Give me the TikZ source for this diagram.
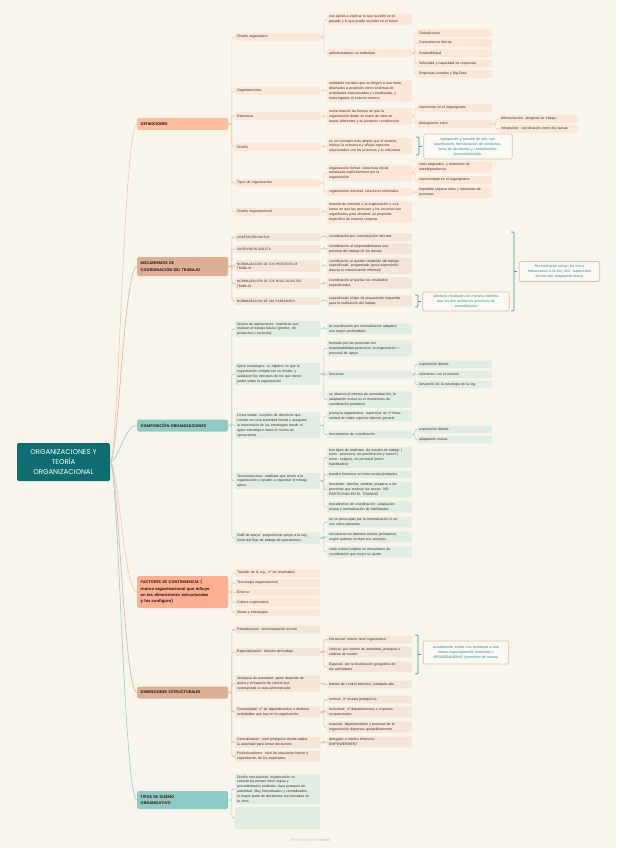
\documentclass[tikz,border=0pt]{standalone}
\usepackage{fontspec}
\setmainfont{Liberation Sans}
\newfontfamily\headfont{Poppins}
\usetikzlibrary{positioning, calc}

\definecolor{bgCream}{HTML}{F8F6EC}
\definecolor{rootTeal}{HTML}{0E6D71}
\definecolor{defHead}{HTML}{FDBE9F}
\definecolor{mecHead}{HTML}{DDAF94}
\definecolor{cmpHead}{HTML}{8DCBC4}
\definecolor{defFill}{HTML}{FBE6D8}
\definecolor{mecFill}{HTML}{F3E5D8}
\definecolor{cmpFill}{HTML}{E1ECE2}
\definecolor{defLine}{HTML}{FBCAAE}
\definecolor{mecLine}{HTML}{E0BBA2}
\definecolor{cmpLine}{HTML}{A2D2CB}
\definecolor{ink}{HTML}{3E3029}
\definecolor{headInk}{HTML}{3B2A20}
\definecolor{braceTeal}{HTML}{3C9A9A}
\definecolor{noteEdge}{HTML}{E4BFA7}
\definecolor{noteFill}{HTML}{FBF9F3}
\definecolor{noteInk}{HTML}{2B8B89}
\definecolor{markGrey}{HTML}{C9C7BE}

\def\xa{235} % level 2 column
\def\xb{327} % level 3 column
\def\xc{417} % level 4 column
\def\xd{499} % level 5 column

% summary brace: x, top, bottom
\newcommand\sumbrace[3]{%
  \draw[brace] (#1,#2) -- (#1+3,#2) -- (#1+3,#3) -- (#1,#3);
  \draw[brace] (#1+3,{(#2+#3)/2}) -- ++(2.5,0);}

\begin{document}
\begin{tikzpicture}[
    x=1pt, y=-1pt,
    every node/.style={font=\fontsize{3.5}{4.9}\selectfont, text=ink},
    rootbox/.style={fill=rootTeal, text=white, minimum width=93pt,
                    minimum height=38pt, align=center, rounded corners=1.5pt,
                    font=\headfont\fontsize{7}{10}\selectfont},
    headbox/.style={anchor=west, minimum width=91pt, text width=84pt,
                    inner xsep=3.5pt, align=left, rounded corners=1.5pt,
                    minimum height=12pt, text=headInk,
                    font=\headfont\bfseries\fontsize{3.9}{6.3}\selectfont},
    leaf/.style={anchor=west, text width=81pt, inner xsep=2pt,
                 inner ysep=1.6pt, rounded corners=1.2pt, align=left,
                 minimum height=7.6pt},
    leafx/.style={leaf, text width=71pt},
    caps/.style={font=\headfont\fontsize{3.2}{4.9}\selectfont},
    dleaf/.style={fill=defFill},
    mleaf/.style={fill=mecFill},
    cleaf/.style={fill=cmpFill},
    dline/.style={draw=defLine, line width=0.6pt, rounded corners=1.5pt},
    mline/.style={draw=mecLine, line width=0.6pt, rounded corners=1.5pt},
    cline/.style={draw=cmpLine, line width=0.6pt, rounded corners=1.5pt},
    brace/.style={draw=braceTeal, line width=0.7pt, rounded corners=1.2pt},
    note/.style={draw=noteEdge, fill=noteFill, line width=0.7pt,
                 rounded corners=2pt, text=noteInk, align=center,
                 font=\fontsize{3.6}{4.9}\selectfont},
    ]

% canvas
\fill[bgCream] (0,0) rectangle (616,848);
\useasboundingbox (0,0) rectangle (616,848);

% ====================================================================
% Root and main branches
% ====================================================================
\node[rootbox] (root) at (63.5,462)
  {ORGANIZACIONES Y\\TEORÍA\\ORGANIZACIONAL};

\node[headbox, fill=defHead] (def) at (137,124) {DEFINICIONES};
\node[headbox, fill=mecHead, minimum height=19pt] (mec) at (137,266.5)
  {MECANISMOS DE\\COORDINACIÓN DEL TRABAJO};
\node[headbox, fill=cmpHead] (cmp) at (137,425.5)
  {COMPOSICIÓN ORGANIZACIONES};
\node[headbox, fill=defHead!92!red, minimum height=32pt] (fac) at (137,592)
  {FACTORES DE CONTINGENCIA (\\marco organizacional que influye\\en las dimensiones estructurales\\y las configura)};
\node[headbox, fill=mecHead] (dim) at (137,692.5)
  {DIMENSIONES ESTRUCTURALES};
\node[headbox, fill=cmpHead, minimum height=18pt] (tip) at (137,800)
  {TIPOS DE DISEÑO\\ORGANIZATIVO};

\draw[defLine, line width=0.7pt] (root.east) .. controls +(8,0) and +(-13,0) .. (def.west);
\draw[mecLine, line width=0.7pt] (root.east) .. controls +(8,0) and +(-13,0) .. (mec.west);
\draw[cmpLine, line width=0.7pt] (root.east) .. controls +(8,0) and +(-13,0) .. (cmp.west);
\draw[defLine, line width=0.7pt] (root.east) .. controls +(8,0) and +(-13,0) .. (fac.west);
\draw[mecLine, line width=0.7pt] (root.east) .. controls +(8,0) and +(-13,0) .. (dim.west);
\draw[cmpLine, line width=0.7pt] (root.east) .. controls +(8,0) and +(-13,0) .. (tip.west);

% ====================================================================
% DEFINICIONES
% ====================================================================
\node[leaf, dleaf] (d1) at (\xa,37)  {Diseño organizativo};
\node[leaf, dleaf] (d2) at (\xa,91)  {Organizaciones};
\node[leaf, dleaf] (d3) at (\xa,116) {Estructura};
\node[leaf, dleaf] (d4) at (\xa,147) {Diseño};
\node[leaf, dleaf] (d5) at (\xa,183) {Tipos de organización};
\node[leaf, dleaf] (d6) at (\xa,212) {Diseño organizacional};

\node[leaf, dleaf] (d1a) at (\xb,19.5)
  {nos ayuda a explicar lo que sucedió en el\\pasado y lo que puede suceder en el futuro};
\node[leaf, dleaf] (d1b) at (\xb,53) {administradores se enfrentan};
\node[leaf, dleaf] (d2a) at (\xb,91)
  {entidades sociales que se dirigen a una meta,\\diseñados a propósito como sistemas de\\actividades estructuradas y coordinadas, y\\estos ligadas al entorno externo};
\node[leaf, dleaf] (d3a) at (\xb,116.5)
  {suma total de las formas en que la\\organización divide su mano de obra en\\tareas diferentes y su posterior coordinación};
\node[leaf, dleaf] (d4a) at (\xb,146)
  {es un concepto más amplio que el anterior,\\incluye la estructura y añade aspectos\\relacionados con los procesos y la estructura};
\node[leaf, dleaf] (d5a) at (\xb,173)
  {organización formal: estructura oficial\\autorizada explícitamente por la\\organización};
\node[leaf, dleaf] (d5b) at (\xb,192)
  {organización informal: relaciones informales};
\node[leaf, dleaf] (d6a) at (\xb,212)
  {manera de concebir a la organización y a la\\forma en que las personas y los recursos son\\organizados para alcanzar un propósito\\específico de manera conjunta};

\node[leafx, dleaf] (glob) at (\xc,33)   {Globalización};
\node[leafx, dleaf] (cint) at (\xc,43)   {Competencia interna};
\node[leafx, dleaf] (sost) at (\xc,53)   {Sostenibilidad};
\node[leafx, dleaf] (velo) at (\xc,63.5) {Velocidad y capacidad de respuesta};
\node[leafx, dleaf] (empr) at (\xc,74)   {Empresas sociales y Big Data};
\node[leafx, dleaf] (repr) at (\xc,108)  {representa en el organigrama};
\node[leafx, dleaf] (dist) at (\xc,124)  {distinguimos entre};
\node[leafx, dleaf] (role) at (\xc,167)
  {roles asignados, y relaciones de\\interdependencia};
\node[leafx, dleaf] (repo) at (\xc,180)  {representado en el organigrama};
\node[leafx, dleaf] (impo) at (\xc,192.5)
  {imposible separar roles y relaciones de\\personas};

\node[leafx, dleaf, text width=75pt] (dife) at (\xd,119)
  {diferenciación: desglose de trabajo};
\node[leafx, dleaf, text width=75pt] (inte) at (\xd,129)
  {integración: coordinación entre dos tareas};

\foreach \n in {d1,d2,d3,d4,d5,d6}
  \draw[dline] (def.east) -- ++(3.5,0) |- (\n.west);
\foreach \n in {d1a,d1b} \draw[dline] (d1.east) -- ++(3.5,0) |- (\n.west);
\draw[dline] (d2.east) -- ++(3.5,0) |- (d2a.west);
\draw[dline] (d3.east) -- ++(3.5,0) |- (d3a.west);
\draw[dline] (d4.east) -- ++(3.5,0) |- (d4a.west);
\foreach \n in {d5a,d5b} \draw[dline] (d5.east) -- ++(3.5,0) |- (\n.west);
\draw[dline] (d6.east) -- ++(3.5,0) |- (d6a.west);
\foreach \n in {glob,cint,sost,velo,empr}
  \draw[dline] (d1b.east) -- ++(2.5,0) |- (\n.west);
\foreach \n in {repr,dist} \draw[dline] (d3a.east) -- ++(2.5,0) |- (\n.west);
\foreach \n in {dife,inte} \draw[dline] (dist.east) -- ++(3.5,0) |- (\n.west);
\foreach \n in {role,repo} \draw[dline] (d5a.east) -- ++(2.5,0) |- (\n.west);
\draw[dline] (d5b.east) -- ++(2.5,0) |- (impo.west);

\sumbrace{416}{137}{155}
\node[note, minimum width=88pt, minimum height=25pt, text width=82pt]
  (n1) at (468,146.5)
  {Agrupación y tamaño de uds, sist.\\planificación, formalización de conductas,\\toma de decisiones y centralización-\\descentralización.};

% ====================================================================
% MECANISMOS DE COORDINACIÓN
% ====================================================================
\node[leaf, mleaf, caps] (m1) at (\xa,237)   {ADAPTACIÓN MUTUA};
\node[leaf, mleaf, caps] (m2) at (\xa,249)   {SUPERVISIÓN DIRECTA};
\node[leaf, mleaf, caps] (m3) at (\xa,266)   {NORMALIZACIÓN DE LOS PROCESOS DE\\TRABAJO};
\node[leaf, mleaf, caps] (m4) at (\xa,283.5) {NORMALIZACIÓN DE LOS RESULTADOS DEL\\TRABAJO};
\node[leaf, mleaf, caps] (m5) at (\xa,301)   {NORMALIZACIÓN DE LAS HABILIDADES};

\node[leaf, mleaf] (m1a) at (\xb,237) {coordinación por comunicación informal};
\node[leaf, mleaf] (m2a) at (\xb,249)
  {coordinación al responsabilizarse una\\persona del trabajo de los demás};
\node[leaf, mleaf] (m3a) at (\xb,266)
  {coordinación al quedar contenido del trabajo\\especificado, programado (poca supervisión\\directa ni comunicación informal)};
\node[leaf, mleaf] (m4a) at (\xb,283)
  {coordinación al quedar los resultados\\especificados};
\node[leaf, mleaf] (m5a) at (\xb,301)
  {especificado el tipo de preparación requerida\\para la realización del trabajo};

\foreach \n in {m1,m2,m3,m4,m5}
  \draw[mline] (mec.east) -- ++(3.5,0) |- (\n.west);
\foreach \p in {m1,m2,m3,m4,m5}
  \draw[mline] (\p.east) -- ++(3.5,0) |- (\p a.west);

\sumbrace{415}{295}{307}
\node[note, minimum width=86pt, minimum height=19pt, text width=80pt]
  (n2) at (466,301.5)
  {idénticos resultados de manera indirecta\\que los dos anteriores procesos de\\normalización};
\sumbrace{511}{232}{311}
\node[note, minimum width=79pt, minimum height=19pt, text width=74pt]
  (n3) at (559.5,271.5)
  {Normalmente actúan los cinco\\mecanismos a la vez, min. supervisión\\directa con adaptación mutua};

% ====================================================================
% COMPOSICIÓN ORGANIZACIONES
% ====================================================================
\node[leaf, cleaf] (c1) at (\xa,329)
  {Núcleo de operaciones: miembros que\\realizan el trabajo básico (produc. de\\productos o servicios)};
\node[leaf, cleaf] (c2) at (\xa,374)
  {Ápice estratégico: su objetivo es que la\\organización cumpla con su misión, y\\satisfacer los intereses de los que tienen\\poder sobre la organización};
\node[leaf, cleaf] (c3) at (\xa,425.5)
  {Línea media: conjunto de directivos que\\cuenta con una autoridad formal y aseguran\\la transmisión de las estrategias desde el\\ápice estratégico hasta el núcleo de\\operaciones.};
\node[leaf, cleaf] (c4) at (\xa,481)
  {Tecnoestructura: analistas que sirven a la\\organización y ayudan a organizar el trabajo\\ajeno.};
\node[leaf, cleaf] (c5) at (\xa,538)
  {Staff de apoyo: proporcionar apoyo a la org.,\\fuera del flujo de trabajo de operaciones.};

\node[leaf, cleaf] (c1a) at (\xb,329)
  {la coordinación por normalización adquiere\\una mayor profundidad};
\node[leaf, cleaf] (c2a) at (\xb,348.5)
  {formado por las personas con\\responsabilidad general en la organización +\\personal de apoyo};
\node[leaf, cleaf] (c2b) at (\xb,374.5) {funciones};
\node[leaf, cleaf] (c2c) at (\xb,399.5)
  {se observa el mínimo de normalización, la\\adaptación mutua es el mecanismo de\\coordinación predilecto};
\node[leaf, cleaf] (c3a) at (\xb,416)
  {jerarquía organizativa: supervisor de 1ª línea-\\unidad de orden superior-director general};
\node[leaf, cleaf] (c3b) at (\xb,434.5) {mecanismos de coordinación};
\node[leaf, cleaf] (c4a) at (\xb,457.5)
  {tres tipos de analistas: de estudio de trabajo (\\norm. procesos), de planificación y control (\\norm. outputs), de personal (norm.\\habilidades)};
\node[leaf, cleaf] (c4b) at (\xb,474.5)
  {pueden funcionar en toda escala jerárquica};
\node[leaf, cleaf] (c4c) at (\xb,489.5)
  {funciones: diseñar, cambiar, preparar a las\\personas que realizan las tareas. NO\\PARTICIPAN EN EL TRABAJO};
\node[leaf, cleaf] (c4d) at (\xb,507)
  {mecanismos de coordinación: adaptación\\mutua y normalización de habilidades};
\node[leaf, cleaf] (c5a) at (\xb,522)
  {no se preocupan por la normalización ni se\\ven como asesores};
\node[leaf, cleaf] (c5b) at (\xb,537)
  {encuentran en distintos niveles jerárquicos,\\según quienes reciban sus servicios};
\node[leaf, cleaf] (c5c) at (\xb,552)
  {cada unidad emplea un mecanismo de\\coordinación que mejor se ajuste};

\node[leafx, cleaf] (sup1) at (\xc,364.5) {supervisión directa};
\node[leafx, cleaf] (rent) at (\xc,374.5) {relaciones con el entorno};
\node[leafx, cleaf] (dest) at (\xc,384.5) {desarrollo de la estrategia de la org};
\node[leafx, cleaf] (sup2) at (\xc,429.5) {supervisión directa};
\node[leafx, cleaf] (adap) at (\xc,439.5) {adaptación mutua};

\foreach \n in {c1,c2,c3,c4,c5}
  \draw[cline] (cmp.east) -- ++(3.5,0) |- (\n.west);
\draw[cline] (c1.east) -- ++(3.5,0) |- (c1a.west);
\foreach \n in {c2a,c2b,c2c} \draw[cline] (c2.east) -- ++(3.5,0) |- (\n.west);
\foreach \n in {c3a,c3b} \draw[cline] (c3.east) -- ++(3.5,0) |- (\n.west);
\foreach \n in {c4a,c4b,c4c,c4d} \draw[cline] (c4.east) -- ++(3.5,0) |- (\n.west);
\foreach \n in {c5a,c5b,c5c} \draw[cline] (c5.east) -- ++(3.5,0) |- (\n.west);
\foreach \n in {sup1,rent,dest} \draw[cline] (c2b.east) -- ++(2.5,0) |- (\n.west);
\foreach \n in {sup2,adap} \draw[cline] (c3b.east) -- ++(2.5,0) |- (\n.west);

% ====================================================================
% FACTORES DE CONTINGENCIA
% ====================================================================
\node[leaf, dleaf] (f1) at (\xa,573)   {Tamaño de la org - nº de empleados};
\node[leaf, dleaf] (f2) at (\xa,583)   {Tecnología organizacional};
\node[leaf, dleaf] (f3) at (\xa,592.5) {Entorno};
\node[leaf, dleaf] (f4) at (\xa,602.5) {Cultura organizativa};
\node[leaf, dleaf] (f5) at (\xa,612.5) {Metas y estrategias};
\foreach \n in {f1,f2,f3,f4,f5}
  \draw[dline] (fac.east) -- ++(3.5,0) |- (\n.west);

% ====================================================================
% DIMENSIONES ESTRUCTURALES
% ====================================================================
\node[leaf, mleaf] (e1) at (\xa,629.5) {Formalización: documentación escrita};
\node[leaf, mleaf] (e2) at (\xa,652)   {Especialización: división del trabajo};
\node[leaf, mleaf] (e3) at (\xa,683.5)
  {Jerarquía de autoridad: quien depende de\\quien y el espacio de control que\\corresponde a cada administrador};
\node[leaf, mleaf] (e4) at (\xa,712)
  {Complejidad: nº de departamentos o distintas\\actividades que hay en la organización};
\node[leaf, mleaf] (e5) at (\xa,742.5)
  {Centralización: nivel jerárquico donde radica\\la autoridad para tomar decisiones};
\node[leaf, mleaf] (e6) at (\xa,756.5)
  {Profesionalismo: nivel de educación formal y\\capacitación de los empleados};

\node[leaf, mleaf] (e2a) at (\xb,639.5) {Horizontal- mismo nivel organizativo};
\node[leaf, mleaf] (e2b) at (\xb,652)
  {Vertical- por niveles de autoridad, jerarquía o\\cadena de mando};
\node[leaf, mleaf] (e2c) at (\xb,667)
  {Espacial- por la localización geográfica de\\las actividades};
\node[leaf, mleaf] (e3a) at (\xb,684.5) {tramos de control estrecho, jerarquía alta};
\node[leaf, mleaf] (e4a) at (\xb,699.5) {vertical: nº niveles jerárquicos};
\node[leaf, mleaf] (e4b) at (\xb,712)
  {horizontal: nº departamentos o especies\\ocupacionales};
\node[leaf, mleaf] (e4c) at (\xb,727)
  {espacial: departamentos y personal de la\\organización dispersos geográficamente};
\node[leaf, mleaf] (e5a) at (\xb,742)
  {delegado a niveles inferiores-\\EMPOWERMENT};

\foreach \n in {e1,e2,e3,e4,e5,e6}
  \draw[mline] (dim.east) -- ++(3.5,0) |- (\n.west);
\foreach \n in {e2a,e2b,e2c} \draw[mline] (e2.east) -- ++(3.5,0) |- (\n.west);
\draw[mline] (e3.east) -- ++(3.5,0) |- (e3a.west);
\foreach \n in {e4a,e4b,e4c} \draw[mline] (e4.east) -- ++(3.5,0) |- (\n.west);
\draw[mline] (e5.east) -- ++(3.5,0) |- (e5a.west);

\sumbrace{415}{635}{674}
\node[note, minimum width=84pt, minimum height=23pt, text width=79pt]
  (n4) at (466,652.5)
  {actualmente, existe una tendencia a una\\menor especialización horizontal =\\BROADBANDING (extensión de tareas)};

% ====================================================================
% TIPOS DE DISEÑO ORGANIZATIVO
% ====================================================================
\node[leaf, cleaf] (t1) at (\xa,789)
  {Diseño mecanicista: organización se\\caracteriza porque tiene reglas y\\procedimientos estándar, clara jerarquía de\\autoridad. Muy formalizados y centralizados,\\la mayor parte de decisiones son tomadas en\\la cima.};
\node[leaf, cleaf, minimum height=22pt] (t2) at (\xa,818) {};
\foreach \n in {t1,t2}
  \draw[cline] (tip.east) -- ++(3.5,0) |- (\n.west);

% footer
\node[text=markGrey, font=\fontsize{4}{5}\selectfont] (mark) at (310,840)
  {Presented with \textbf{xmind}};

\end{tikzpicture}
\end{document}
